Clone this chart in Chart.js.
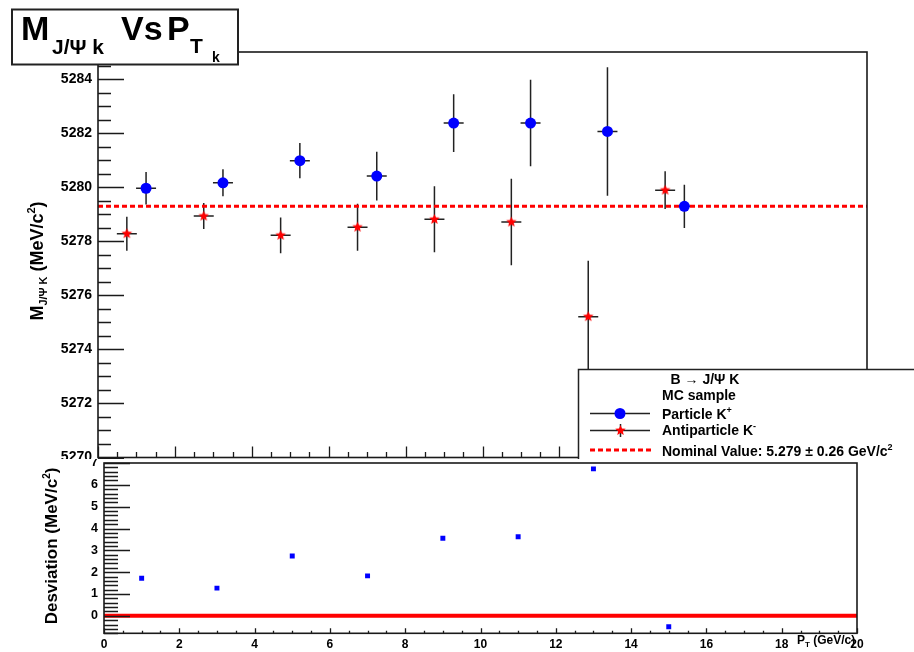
<!DOCTYPE html>
<html>
<head>
<meta charset="utf-8">
<script src="https://cdn.jsdelivr.net/npm/chart.js@4.4.0/dist/chart.umd.min.js"></script>
<style>
  html, body { margin: 0; padding: 0; background: #fff; }
  #top { position: absolute; left: 0; top: 0; width: 914px; height: 475px; z-index: 1; }
  #bottom { position: absolute; left: 0; top: 459px; width: 914px; height: 193px; background: #fff; z-index: 2; }
</style>
</head>
<body>
<div id="top"><canvas id="massChart" width="914" height="475"></canvas></div>
<div id="bottom"><canvas id="devChart" width="914" height="193"></canvas></div>
<script>
// pT bin centres (GeV/c), markers are shifted a bit left/right of the centre
var ptBins = [1, 3, 5, 7, 9, 11, 13, 15];
var ptShift = 0.25;
var ptErr = 0.26;
var ptMin = 0, ptMax = 20;

// fitted B mass per bin, MeV/c^2
var particleMass = [5279.96, 5280.16, 5280.98, 5280.41, 5282.37, 5282.37, 5282.06, 5279.29];
var particleErr  = [0.60, 0.50, 0.65, 0.90, 1.07, 1.60, 2.38, 0.80];
var antiMass     = [5278.28, 5278.93, 5278.22, 5278.52, 5278.81, 5278.71, 5275.21, 5279.89];
var antiErr      = [0.63, 0.48, 0.66, 0.87, 1.22, 1.60, 2.07, 0.70];
var nominalMass = 5279.29;

// particle - antiparticle, MeV/c^2
var deviation = [1.72, 1.27, 2.74, 1.83, 3.55, 3.62, 6.73, -0.50];
var zeroLevel = 0;

var massTicks = [5270, 5272, 5274, 5276, 5278, 5280, 5282, 5284];
var devTicks = [0, 1, 2, 3, 4, 5, 6, 7];
var ptTicks = [0, 2, 4, 6, 8, 10, 12, 14, 16, 18, 20];

var FONT = "'Liberation Sans', Arial, Helvetica, sans-serif";
Chart.defaults.font.family = FONT;
Chart.defaults.font.weight = 'bold';
Chart.defaults.color = '#000';

function starImage(r, color) {
    var c = document.createElement('canvas');
    var s = Math.ceil(r * 2 + 2);
    c.width = c.height = s;
    var g = c.getContext('2d');
    g.fillStyle = color;
    g.beginPath();
    for (var i = 0; i < 10; i++) {
        var rr = i % 2 ? r * 0.45 : r;
        var ang = -Math.PI / 2 + i * Math.PI / 5;
        g.lineTo(s / 2 + rr * Math.cos(ang), s / 2 + rr * Math.sin(ang));
    }
    g.closePath();
    g.fill();
    return c;
}
var redStar = starImage(5.5, '#ff0000');

// text with sub/superscripts: runs of [text, size, dy]
function richWidth(ctx, runs) {
    var w = 0;
    runs.forEach(function (r) {
        ctx.font = 'bold ' + r[1] + 'px ' + FONT;
        w += ctx.measureText(r[0]).width;
    });
    return w;
}
function richText(ctx, runs, x, y) {
    var cx = x;
    runs.forEach(function (r) {
        ctx.font = 'bold ' + r[1] + 'px ' + FONT;
        ctx.fillText(r[0], cx, y + (r[2] || 0));
        cx += ctx.measureText(r[0]).width;
    });
}
function rotatedTitle(ctx, runs, x, y) {
    ctx.save();
    ctx.translate(x, y);
    ctx.rotate(-Math.PI / 2);
    richText(ctx, runs, -richWidth(ctx, runs) / 2, 0);
    ctx.restore();
}

function eachTick(min, max, minor, major, fn) {
    var first = Math.ceil(min / minor - 1e-6);
    var last = Math.floor(max / minor + 1e-6);
    for (var k = first; k <= last; k++) {
        var v = k * minor;
        var r = v / major;
        fn(v, Math.abs(r - Math.round(r)) < 1e-6);
    }
}

// error bars from the errY/errX fields of a dataset
var errorBars = {
    id: 'errorBars',
    beforeDatasetsDraw: function (chart) {
        var ctx = chart.ctx, sx = chart.scales.x, sy = chart.scales.y;
        ctx.save();
        ctx.strokeStyle = '#222';
        ctx.lineWidth = 1.5;
        chart.data.datasets.forEach(function (ds) {
            if (!ds.errY) return;
            ds.data.forEach(function (p, i) {
                var px = sx.getPixelForValue(p.x), py = sy.getPixelForValue(p.y);
                ctx.beginPath();
                ctx.moveTo(sx.getPixelForValue(p.x - ds.errX), py);
                ctx.lineTo(sx.getPixelForValue(p.x + ds.errX), py);
                ctx.moveTo(px, sy.getPixelForValue(p.y - ds.errY[i]));
                ctx.lineTo(px, sy.getPixelForValue(p.y + ds.errY[i]));
                ctx.stroke();
            });
        });
        ctx.restore();
    }
};

// ROOT style frame with ticks pointing inwards
var rootFrame = {
    id: 'rootFrame',
    afterDatasetsDraw: function (chart, args, o) {
        var ctx = chart.ctx, a = chart.chartArea, sx = chart.scales.x, sy = chart.scales.y;
        ctx.save();
        ctx.strokeStyle = '#1a1a1a';
        ctx.lineWidth = 1.3;
        ctx.beginPath();
        eachTick(sx.min, sx.max, o.x[0], o.x[1], function (v, big) {
            var px = Math.round(sx.getPixelForValue(v)) + 0.5;
            ctx.moveTo(px, a.bottom);
            ctx.lineTo(px, a.bottom - (big ? o.x[2] : o.x[3]));
        });
        eachTick(sy.min, sy.max, o.y[0], o.y[1], function (v, big) {
            var py = Math.round(sy.getPixelForValue(v)) + 0.5;
            ctx.moveTo(a.left, py);
            ctx.lineTo(a.left + (big ? o.y[2] : o.y[3]), py);
        });
        ctx.stroke();
        ctx.lineWidth = 1.6;
        ctx.strokeRect(a.left, a.top, a.right - a.left, a.bottom - a.top);
        ctx.restore();
    }
};

var topDecor = {
    id: 'topDecor',
    afterDraw: function (chart) {
        var ctx = chart.ctx;
        ctx.save();
        ctx.textBaseline = 'alphabetic';

        // legend
        ctx.fillStyle = '#fff';
        ctx.fillRect(578, 369, 345, 120);
        ctx.strokeStyle = '#222';
        ctx.lineWidth = 1.5;
        ctx.strokeRect(578.5, 369.5, 345, 120);
        ctx.fillStyle = '#000';
        var head = [['B \u2192 J/\u03A8 K', 14]];
        richText(ctx, head, 705 - richWidth(ctx, head) / 2, 384);
        richText(ctx, [['MC sample', 14]], 662, 400);
        richText(ctx, [['Particle K', 14], ['+', 9, -6]], 662, 419);
        richText(ctx, [['Antiparticle K', 14], ['-', 9, -6]], 662, 435);
        richText(ctx, [['Nominal Value: 5.279 \u00B1 0.26 GeV/c', 14], ['2', 9, -6]], 662, 456);

        ctx.strokeStyle = '#222';
        ctx.lineWidth = 1.5;
        ctx.beginPath();
        ctx.moveTo(590, 413.5); ctx.lineTo(650, 413.5);
        ctx.moveTo(590, 430.5); ctx.lineTo(650, 430.5);
        ctx.moveTo(620.5, 424); ctx.lineTo(620.5, 437);
        ctx.stroke();
        ctx.fillStyle = '#0000ff';
        ctx.beginPath();
        ctx.arc(620, 413.5, 5.5, 0, Math.PI * 2);
        ctx.fill();
        ctx.drawImage(redStar, 620.5 - redStar.width / 2, 430.5 - redStar.height / 2);
        ctx.strokeStyle = '#ff0000';
        ctx.lineWidth = 3;
        ctx.setLineDash([5, 3]);
        ctx.beginPath();
        ctx.moveTo(590, 450); ctx.lineTo(652, 450);
        ctx.stroke();
        ctx.setLineDash([]);

        // title box
        ctx.fillStyle = '#fff';
        ctx.fillRect(12, 9.5, 226, 55);
        ctx.strokeStyle = '#222';
        ctx.lineWidth = 2;
        ctx.strokeRect(12, 9.5, 226, 55);
        ctx.fillStyle = '#000';
        richText(ctx, [['M', 34]], 21, 40);
        richText(ctx, [['J/\u03A8 k', 21]], 52, 54);
        richText(ctx, [['Vs', 34]], 121, 40);
        richText(ctx, [['P', 34]], 167, 40);
        richText(ctx, [['T', 21]], 190, 53);
        richText(ctx, [['k', 14]], 212, 61.5);

        // y axis title
        rotatedTitle(ctx, [['M', 18], ['J/\u03A8 K', 11, 4], [' (MeV/c', 18], ['2', 11, -8], [')', 18]], 43, 261);
        ctx.restore();
    }
};

var bottomDecor = {
    id: 'bottomDecor',
    afterDraw: function (chart) {
        var ctx = chart.ctx;
        ctx.save();
        ctx.fillStyle = '#000';
        rotatedTitle(ctx, [['Desviation (MeV/c', 17], ['2', 10, -7], [')', 17]], 57, 87);
        richText(ctx, [['P', 12], ['T', 8, 3], [' (GeV/c)', 12]], 797, 185);
        ctx.restore();
    }
};

function fixWidth(w) {
    return function (s) { s.width = w; s.paddingTop = 0; s.paddingBottom = 0; };
}
function fixHeight(h) {
    return function (s) { s.height = h; s.paddingLeft = 0; s.paddingRight = 0; };
}
function useTicks(list) {
    return function (s) { s.ticks = list.map(function (v) { return { value: v }; }); };
}
function plain(v) { return String(v); }

new Chart(document.getElementById('massChart'), {
    type: 'scatter',
    data: {
        datasets: [
            {
                label: 'Particle K+',
                data: ptBins.map(function (b, i) { return { x: b + ptShift, y: particleMass[i] }; }),
                errY: particleErr, errX: ptErr,
                pointStyle: 'circle', pointRadius: 5.5,
                backgroundColor: '#0000ff', borderWidth: 0
            },
            {
                label: 'Antiparticle K-',
                data: ptBins.map(function (b, i) { return { x: b - ptShift, y: antiMass[i] }; }),
                errY: antiErr, errX: ptErr,
                pointStyle: redStar, pointRadius: 5.5,
                backgroundColor: '#ff0000', borderWidth: 0
            },
            {
                label: 'Nominal Value',
                type: 'line',
                data: [{ x: ptMin, y: nominalMass }, { x: ptMax, y: nominalMass }],
                borderColor: '#ff0000', borderWidth: 3, borderDash: [5, 3],
                pointRadius: 0, fill: false
            }
        ]
    },
    options: {
        responsive: false,
        animation: false,
        devicePixelRatio: 1,
        events: [],
        layout: { padding: { left: 0, right: 47, top: 52, bottom: 17.5 } },
        scales: {
            x: { type: 'linear', display: false, min: ptMin, max: ptMax },
            y: {
                min: 5270, max: 5285,
                grid: { display: false, drawTicks: false },
                border: { display: false },
                ticks: { padding: 6, font: { size: 14, weight: 'bold' }, color: '#000', callback: plain },
                afterBuildTicks: useTicks(massTicks),
                afterFit: fixWidth(98)
            }
        },
        plugins: {
            legend: { display: false },
            tooltip: { enabled: false },
            rootFrame: { x: [0.5, 2, 11, 5.5], y: [0.5, 2, 26, 13] }
        }
    },
    plugins: [errorBars, rootFrame, topDecor]
});

new Chart(document.getElementById('devChart'), {
    type: 'scatter',
    data: {
        datasets: [
            {
                label: 'Desviation',
                data: ptBins.map(function (b, i) { return { x: b, y: deviation[i] }; }),
                pointStyle: 'rect', pointRadius: 3.5,
                backgroundColor: '#0000ff', borderWidth: 0
            },
            {
                label: 'zero',
                type: 'line',
                data: [{ x: ptMin, y: zeroLevel }, { x: ptMax, y: zeroLevel }],
                borderColor: '#ff0000', borderWidth: 4,
                pointRadius: 0, fill: false
            }
        ]
    },
    options: {
        responsive: false,
        animation: false,
        devicePixelRatio: 1,
        events: [],
        layout: { padding: { left: 0, right: 57, top: 2.7, bottom: 0 } },
        scales: {
            x: {
                type: 'linear', min: ptMin, max: ptMax,
                grid: { display: false, drawTicks: false },
                border: { display: false },
                ticks: { padding: 4, font: { size: 12, weight: 'bold' }, color: '#000', autoSkip: false, maxRotation: 0, callback: plain },
                afterBuildTicks: useTicks(ptTicks),
                afterFit: fixHeight(18.7)
            },
            y: {
                min: -0.8, max: 7,
                grid: { display: false, drawTicks: false },
                border: { display: false },
                ticks: { padding: 6, font: { size: 12.5, weight: 'bold' }, color: '#000', callback: plain },
                afterBuildTicks: useTicks(devTicks),
                afterFit: fixWidth(104)
            }
        },
        plugins: {
            legend: { display: false },
            tooltip: { enabled: false },
            rootFrame: { x: [0.5, 2, 5, 2.5], y: [0.2, 1, 26, 14] }
        }
    },
    plugins: [rootFrame, bottomDecor]
});
</script>
</body>
</html>
